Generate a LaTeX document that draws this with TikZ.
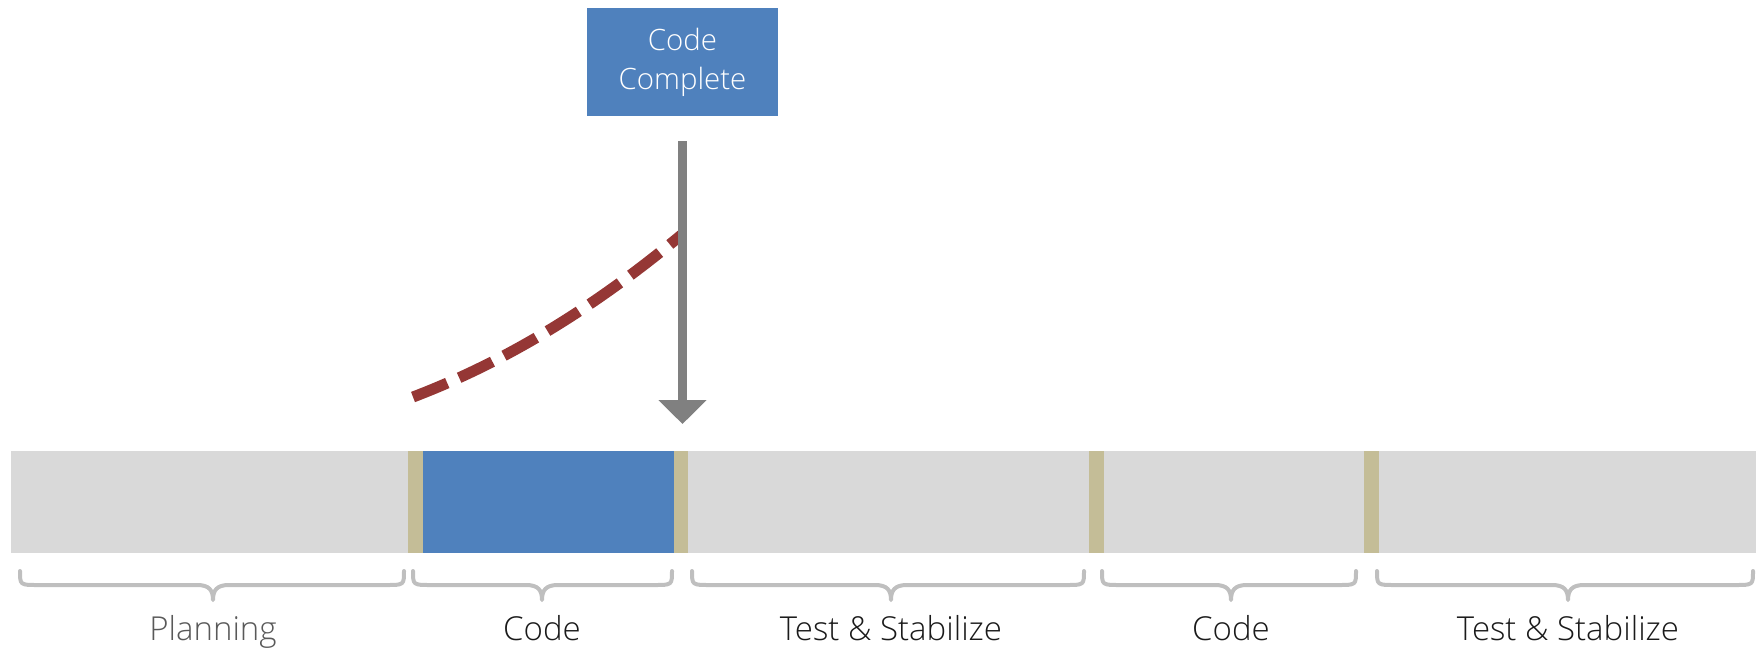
\documentclass[tikz,border=0pt]{standalone}
\usepackage{fontspec}
\setmainfont{Open Sans Light}
\usetikzlibrary{arrows.meta}
\definecolor{barg}{HTML}{D9D9D9}
\definecolor{sep}{HTML}{C4BD97}
\definecolor{blu}{HTML}{4F81BD}
\definecolor{dred}{HTML}{953735}
\definecolor{brg}{HTML}{BFBFBF}
\definecolor{arrg}{HTML}{808080}
\definecolor{lbl}{HTML}{1A1A1A}
\definecolor{lblg}{HTML}{595959}
\tikzset{
  bracestyle/.style={draw=brg, line width=2pt, line cap=round, line join=round},
  phase/.style={font=\fontsize{16.5}{20}\selectfont, text=lbl, anchor=base, inner sep=0pt},
  milestone/.style={fill=blu, text=white, minimum width=95.5pt, minimum height=54pt, inner sep=0pt,
    align=center, font=\fontsize{14.7}{19.5}\selectfont},
  bigarrow/.style={draw=arrg, line width=4.5pt, -{Triangle[width=23.5pt,length=12pt]}},
  slip/.style={draw=dred, line width=5.5pt, dash pattern=on 18.5pt off 6.5pt},
}
\newcommand\brc[3]{\draw[bracestyle] (#1,571) .. controls (#1,585) .. (#1+18,585) -- (#2-16,585) .. controls (#2-4,585) and (#2,590) .. (#2,600) .. controls (#2,590) and (#2+4,585) .. (#2+16,585) -- (#3-18,585) .. controls (#3,585) .. (#3,571);}
\begin{document}
\begin{tikzpicture}[x=0.5pt, y=-0.5pt]
\useasboundingbox (0,0) rectangle (1756,654);
% bar
\fill[barg] (11,451) rectangle (1756,553);
\fill[blu] (423,451) rectangle (674,553);
\fill[sep] (408,451) rectangle (423,553);
\fill[sep] (674,451) rectangle (688,553);
\fill[sep] (1089,451) rectangle (1104,553);
\fill[sep] (1364,451) rectangle (1379,553);
% braces
\brc{20}{213}{404}
\brc{413}{542}{672}
\brc{692}{891}{1084}
\brc{1102}{1231}{1356}
\brc{1377}{1568}{1753}
% labels
\node[phase, text=lblg] (l1) at (213,640) {Planning};
\node[phase] (l2) at (542,640) {Code};
\node[phase] (l3) at (891,640) {Test \& Stabilize};
\node[phase] (l4) at (1231,640) {Code};
\node[phase] (l5) at (1568,640) {Test \& Stabilize};
% milestone
\node[milestone] (cc) at (682.5,62) {Code\\Complete};
\coordinate (as) at (682.5,141);
\coordinate (ae) at (682.5,424);
\coordinate (ds) at (413,397);
\coordinate (de) at (682.5,234);
\draw[slip] (ds) .. controls (505.7,361.7) and (593.7,308) .. (de);
\draw[bigarrow] (as) -- (ae);
\end{tikzpicture}
\end{document}
